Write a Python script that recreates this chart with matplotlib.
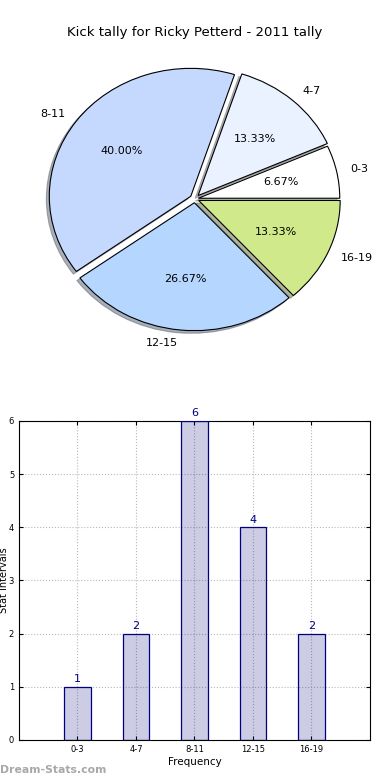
import matplotlib
matplotlib.use('Agg')
import matplotlib.pyplot as plt

labels = ['0-3', '4-7', '8-11', '12-15', '16-19']
counts = [1, 2, 6, 4, 2]
pie_colors = ['#ffffff', '#eaf1ff', '#c5d9ff', '#b5d6ff', '#d0ea8b']
explode = (0.025, 0.035, 0.035, 0.03, 0.03)

fig = plt.figure(figsize=(3.9, 7.8), dpi=100)

# pie on top
ax1 = fig.add_axes([0.046, 0.540, 0.907, 0.410])
ax1.pie(counts, labels=labels, colors=pie_colors, explode=explode,
        autopct='%1.2f%%', startangle=0,
        shadow={'ox': -0.015, 'oy': -0.015, 'shade': 0.55},
        wedgeprops={'edgecolor': 'black', 'linewidth': 0.8},
        textprops={'fontsize': 8})
ax1.set_aspect('auto')
ax1.set_xlim(-1.25, 1.25)
ax1.set_ylim(-1.25, 1.25)
ax1.set_title('Kick tally for Ricky Petterd - 2011 tally', fontsize=9.5, pad=2)

# bars below
ax2 = fig.add_axes([0.0487, 0.0513, 0.9, 0.409])
x = range(len(labels))
ax2.bar(x, counts, width=0.45, color='navy', alpha=0.2, zorder=2)
ax2.bar(x, counts, width=0.45, fill=False, edgecolor='navy', linewidth=0.9, zorder=3)
for i, v in zip(x, counts):
    ax2.text(i, v + 0.05, str(v), ha='center', va='bottom', color='navy', fontsize=8)
ax2.set_xlim(-1, 5)
ax2.set_ylim(0, 6)
ax2.set_xticks(list(x))
ax2.set_xticklabels(labels)
ax2.set_yticks(range(7))
ax2.tick_params(labelsize=6, direction='in', top=True, right=True, length=3)
ax2.grid(True, color='#b8b8b8', linestyle=':', linewidth=0.8, zorder=0)
ax2.set_axisbelow(True)
ax2.set_xlabel('Frequency', fontsize=7.5, labelpad=2)
ax2.set_ylabel('Stat Intervals', fontsize=7)
ax2.yaxis.set_label_coords(-0.028, 0.5)

fig.text(0.0, 0.0125, 'Dream-Stats.com', color='#a8a8a8', fontsize=7.8,
         fontweight='bold', ha='left', va='center')

fig.savefig('out.png', dpi=100)
